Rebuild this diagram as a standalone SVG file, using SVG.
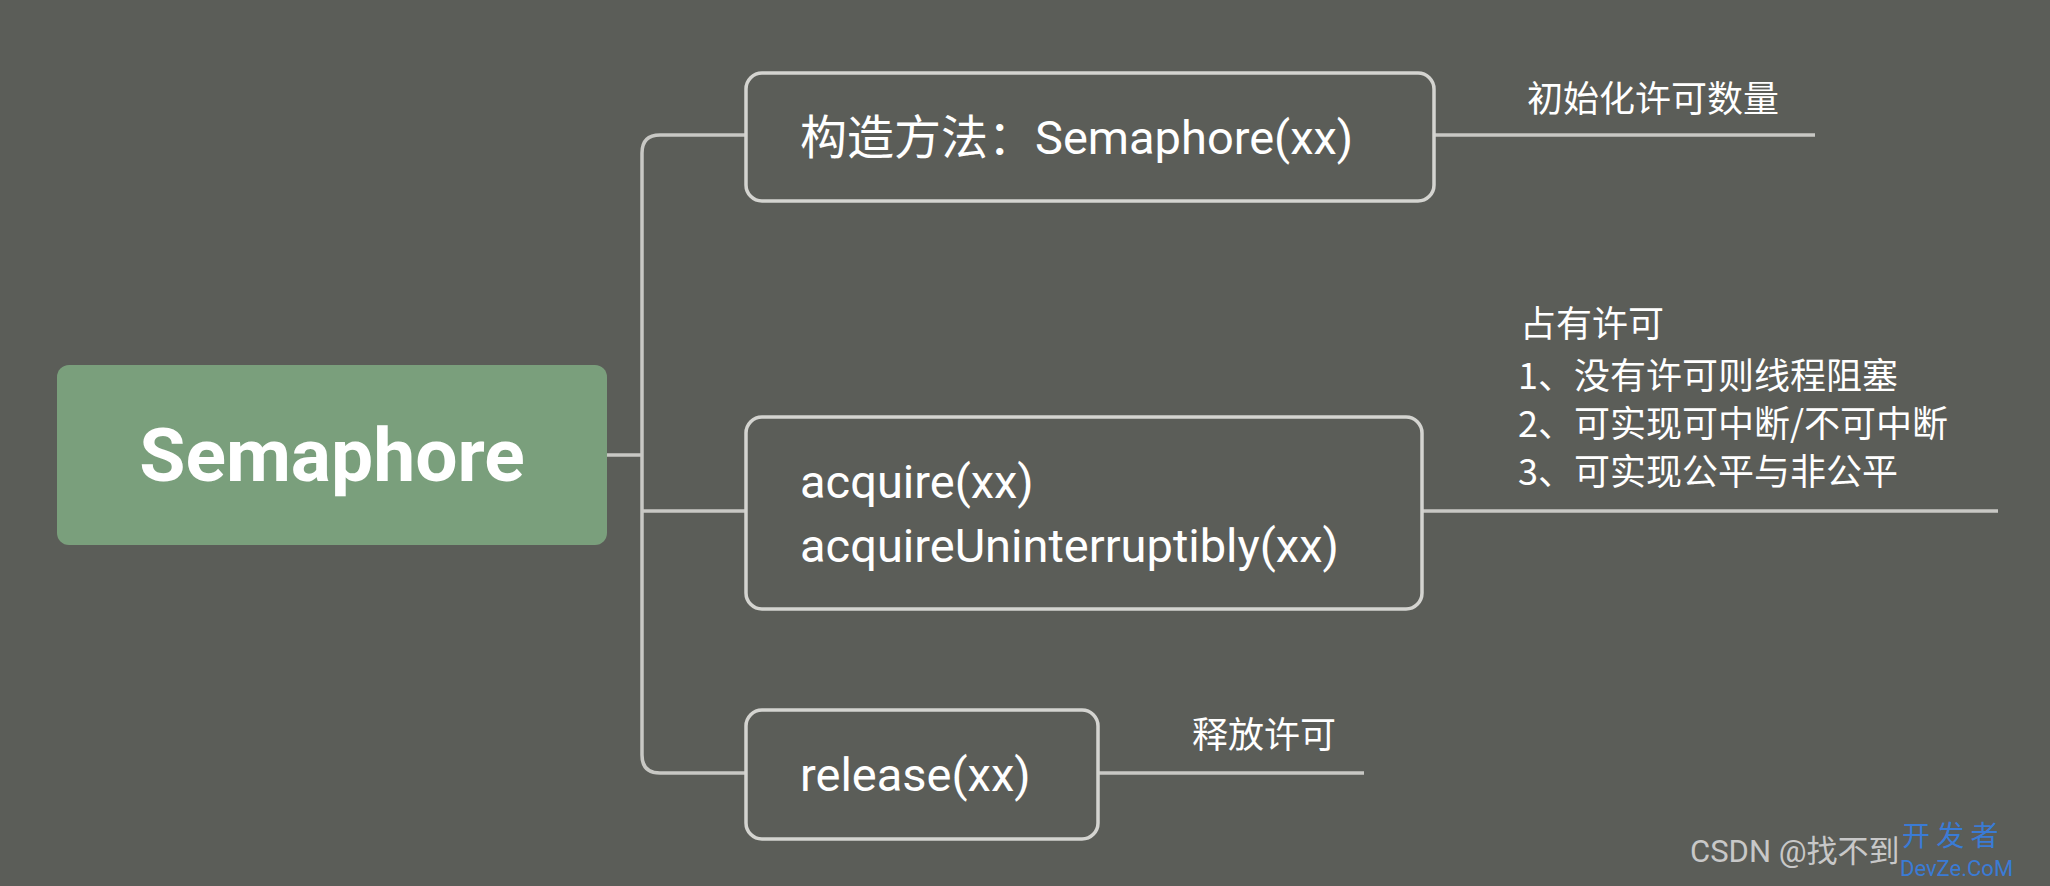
<svg xmlns="http://www.w3.org/2000/svg" width="2050" height="886" viewBox="0 0 2050 886">
<style>
.box{fill:none;stroke:#d4d4d0;stroke-width:3.5}
.ln{fill:none;stroke:#c8c8c4;stroke-width:3.5}
.t{font-family:Roboto,"Noto Sans","Noto Sans CJK SC",sans-serif;fill:#ffffff;font-size:47px}
.n{font-family:"Noto Sans CJK SC",sans-serif;fill:#ffffff;font-size:36px}
</style>
<rect width="2050" height="886" fill="#5b5d58"/>
<g id="connectors">
<path class="ln" d="M607 455H642"/>
<path class="ln" d="M746 135H660Q642 135 642 153V755Q642 773 660 773H746"/>
<path class="ln" d="M642 511H746"/>
<path class="ln" d="M1434 135H1815"/>
<path class="ln" d="M1422 511H1998"/>
<path class="ln" d="M1098 773H1364"/>
</g>
<g id="root">
<rect x="57" y="365" width="550" height="180" rx="12" fill="#7a9f7c"/>
<text x="332" y="481" text-anchor="middle" font-family="Roboto,sans-serif" font-weight="bold" font-size="75" fill="#fff">Semaphore</text>
</g>
<g id="n1">
<rect class="box" x="746" y="73" width="688" height="128" rx="16"/>
<text class="t" x="800" y="154">构造方法：Semaphore(xx)</text>
</g>
<g id="n2">
<rect class="box" x="746" y="417" width="676" height="192" rx="16"/>
<text class="t" x="800" y="498">acquire(xx)</text>
<text class="t" x="800" y="562">acquireUninterruptibly(xx)</text>
</g>
<g id="n3">
<rect class="box" x="746" y="710" width="352" height="129" rx="16"/>
<text class="t" x="800" y="791">release(xx)</text>
</g>
<g id="labels">
<text class="n" x="1527" y="112">初始化许可数量</text>
<text class="n" x="1520" y="337">占有许可</text>
<text class="n" x="1518" y="389">1、没有许可则线程阻塞</text>
<text class="n" x="1518" y="437">2、可实现可中断/不可中断</text>
<text class="n" x="1518" y="485">3、可实现公平与非公平</text>
<text class="n" x="1192" y="748">释放许可</text>
</g>
<text x="1690" y="862" font-family="Roboto,'Noto Sans CJK SC',sans-serif" font-size="31" fill="#c8c8c8">CSDN @找不到</text>
<text x="1902" y="846" font-family="'Noto Sans CJK SC',sans-serif" font-size="28" fill="#3a7bd5">开 发 者</text>
<text x="1900" y="876" font-family="Roboto,sans-serif" font-size="22" fill="#3a7bd5">DevZe.CoM</text>
</svg>
